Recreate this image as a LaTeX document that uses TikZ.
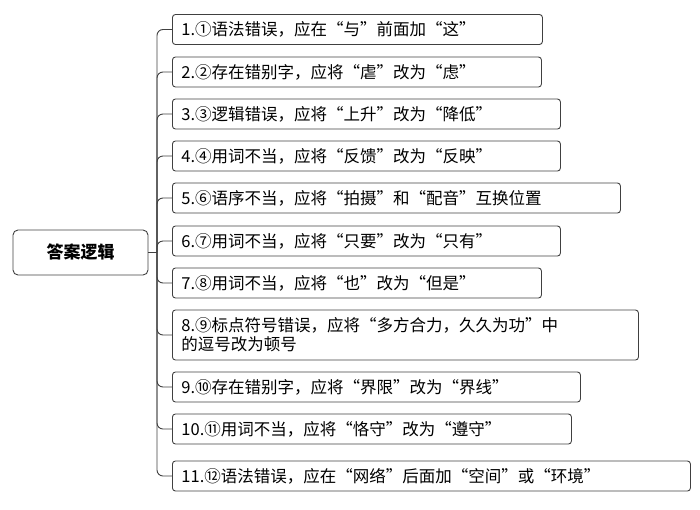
\documentclass[tikz,border=0pt]{standalone}
\usepackage{fontspec}
\setmainfont{Noto Sans CJK SC}
\begin{document}
\begin{tikzpicture}[x=1pt,y=-1pt,
  box/.style={draw=black!75,line width=0.9pt,rounded corners=3pt,anchor=west,minimum height=30pt,inner xsep=9pt,font=\fontsize{16.5}{19}\selectfont,align=left,text width=#1-18pt},
  con/.style={draw=black!75,line width=0.9pt,rounded corners=6pt}]
\useasboundingbox (0,0) rectangle (700,509);
\node[draw=black!75,line width=0.9pt,rounded corners=5pt,minimum width=135pt,minimum height=45pt,font=\fontsize{17}{20}\selectfont\bfseries] (root) at (80.5,252.5) {答案逻辑};
\node[box=370pt] (c1) at (172,29.5) {1.①语法错误，应在“与”前面加“这”};
\node[box=369pt] (c2) at (172,72) {2.②存在错别字，应将“虐”改为“虑”};
\node[box=388pt] (c3) at (172,114) {3.③逻辑错误，应将“上升”改为“降低”};
\node[box=388pt] (c4) at (172,156) {4.④用词不当，应将“反馈”改为“反映”};
\node[box=448pt] (c5) at (172,198) {5.⑥语序不当，应将“拍摄”和“配音”互换位置};
\node[box=388pt] (c6) at (172,241) {6.⑦用词不当，应将“只要”改为“只有”};
\node[box=369pt] (c7) at (172,283) {7.⑧用词不当，应将“也”改为“但是”};
\node[box=466pt,minimum height=50pt,inner ysep=3pt] (c8) at (172,335) {8.⑨标点符号错误，应将“多方合力，久久为功”中\\的逗号改为顿号};
\node[box=408pt] (c9) at (172,387) {9.⑩存在错别字，应将“界限”改为“界线”};
\node[box=399pt] (c10) at (172,429) {10.⑪用词不当，应将“恪守”改为“遵守”};
\node[box=518pt] (c11) at (172,476) {11.⑫语法错误，应在“网络”后面加“空间”或“环境”};
\coordinate (t) at (157,252.5);
\draw[con] (root.east) -- (t);
\foreach \c in {c1,c2,c3,c4,c5,c6,c7,c8,c9,c10,c11}
  \draw[con] (t) |- (\c.west);
\end{tikzpicture}
\end{document}
